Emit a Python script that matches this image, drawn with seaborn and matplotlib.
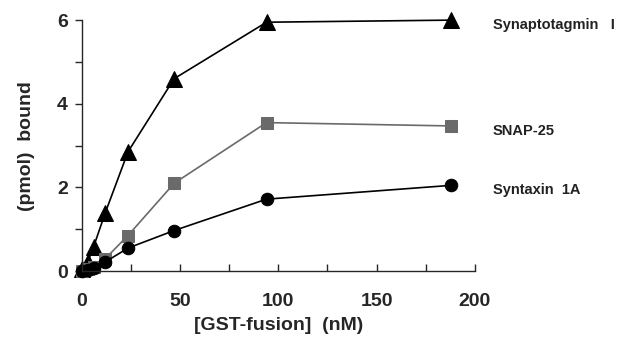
import numpy as np
import pandas as pd
import seaborn as sns
import matplotlib.pyplot as plt
from matplotlib.ticker import MultipleLocator

# GST-fusion concentration (nM) and amount bound (pmol)
conc = [0, 3, 6, 12, 23.5, 47, 94, 188]
synaptotagmin = [0.05, 0.22, 0.58, 1.4, 2.85, 4.6, 5.95, 6.0]
snap25 = [0.0, 0.05, 0.1, 0.3, 0.85, 2.1, 3.55, 3.47]
syntaxin = [0.0, 0.03, 0.08, 0.22, 0.55, 0.97, 1.72, 2.05]
names = ["Synaptotagmin   I", "SNAP-25", "Syntaxin  1A"]

sns.set_style("ticks")
plt.rcParams['font.family'] = ['Liberation Sans', 'DejaVu Sans']
plt.rcParams['font.weight'] = 'bold'

df = pd.DataFrame({
    "conc": conc * 3,
    "bound": synaptotagmin + snap25 + syntaxin,
    "protein": [names[0]] * 8 + [names[1]] * 8 + [names[2]] * 8,
})

fig = plt.figure(figsize=(6.34, 3.41), dpi=100)
ax = fig.add_axes([0.129, 0.205, 0.62, 0.736])

styles = {names[0]: ("^", "black", 11), names[1]: ("s", "#6a6a6a", 9), names[2]: ("o", "black", 9)}
for name in names:
    m, c, s = styles[name]
    sub = df[df.protein == name]
    sns.lineplot(data=sub, x="conc", y="bound", ax=ax, color=c, marker=m, markersize=s,
                 markeredgecolor=c, linewidth=1.2, clip_on=False, legend=False)
    ax.text(1.045, sub.bound.iloc[-1] - 0.12, name, transform=ax.get_yaxis_transform(),
            fontsize=10.5, fontweight='bold', va='center', ha='left', color='#222222')

ax.set_xlim(0, 200)
ax.set_ylim(0, 6)
ax.xaxis.set_major_locator(MultipleLocator(50))
ax.xaxis.set_minor_locator(MultipleLocator(25))
ax.yaxis.set_major_locator(MultipleLocator(2))
ax.yaxis.set_minor_locator(MultipleLocator(1))
ax.tick_params(axis='x', which='both', direction='in', length=5, width=1, pad=16, labelsize=14)
ax.tick_params(axis='y', which='both', direction='out', length=5, width=1, pad=5, labelsize=14)
sns.despine(ax=ax)
for sp in ax.spines.values():
    sp.set_linewidth(1)
ax.set_xlabel("[GST-fusion]  (nM)", fontsize=14, fontweight='bold', labelpad=5)
ax.set_ylabel("(pmol)  bound", fontsize=14, fontweight='bold', labelpad=16)

fig.savefig("out.png", dpi=100)
